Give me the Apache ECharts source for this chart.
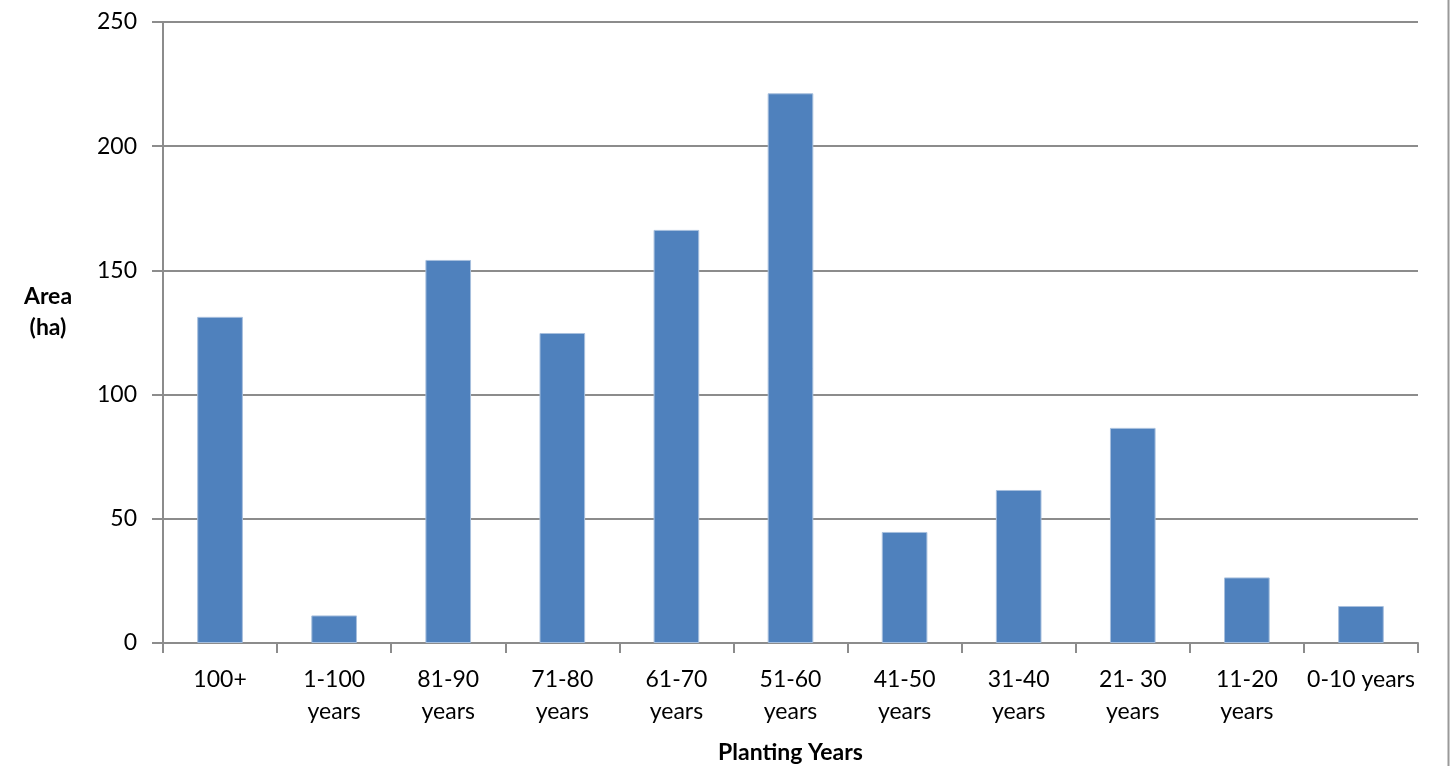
<!DOCTYPE html>
<html>
<head>
<meta charset="utf-8">
<script src="https://cdn.jsdelivr.net/npm/echarts@6/dist/echarts.min.js"></script>
<style>
  html, body { margin: 0; padding: 0; background: #fff; }
  #chart { width: 1450px; height: 766px; }
</style>
</head>
<body>
<div id="chart"></div>
<script>
// Planting-year classes and the area planted in each (ha)
const categories = ['100+', '1-100\nyears', '81-90\nyears', '71-80\nyears', '61-70\nyears', '51-60\nyears',
                    '41-50\nyears', '31-40\nyears', '21- 30\nyears', '11-20\nyears', '0-10 years'];
const areaHa = [131.3, 11.1, 154.2, 124.8, 166.3, 221.3, 44.7, 61.6, 86.6, 26.4, 14.9];
const yTicks = { min: 0, max: 250, interval: 50 };
const xTitle = 'Planting Years';
const yTitle = 'Area\n(ha)';

const FONT = 'Lato, "Open Sans", sans-serif';
const GRID_GRAY = '#8c8c8c';

const chart = echarts.init(document.getElementById('chart'), null, { renderer: 'canvas' });
chart.setOption({
  animation: false,
  backgroundColor: '#fff',
  grid: { left: 163, right: 32, top: 22, bottom: 123, containLabel: false, outerBoundsMode: 'none' },
  xAxis: {
    type: 'category',
    data: categories,
    name: xTitle,
    nameLocation: 'middle',
    nameGap: 98,
    nameTextStyle: { fontFamily: FONT, fontSize: 23, fontWeight: 'bold', color: '#000' },
    axisLine: { lineStyle: { color: GRID_GRAY, width: 2 } },
    axisTick: { show: true, length: 10, alignWithLabel: false, lineStyle: { color: GRID_GRAY, width: 2 } },
    axisLabel: { fontFamily: FONT, fontSize: 23, color: '#000', lineHeight: 32, margin: 21, interval: 0 }
  },
  yAxis: {
    type: 'value',
    min: yTicks.min, max: yTicks.max, interval: yTicks.interval,
    axisLine: { show: true, lineStyle: { color: GRID_GRAY, width: 2 } },
    axisTick: { show: true, length: 11, lineStyle: { color: GRID_GRAY, width: 2 } },
    axisLabel: { fontFamily: FONT, fontSize: 23, color: '#000', margin: 26 },
    splitLine: { show: true, lineStyle: { color: GRID_GRAY, width: 2 } }
  },
  series: [{
    type: 'bar',
    data: areaHa,
    barCategoryGap: '60%',
    itemStyle: { color: '#4f81bd', borderColor: '#a7bfdd', borderWidth: 1 }
  }],
  graphic: [{
    // horizontal y-axis title, sitting left of the tick labels
    type: 'text',
    x: 48, y: 312,
    style: {
      text: yTitle, fontFamily: FONT, fontSize: 23, fontWeight: 'bold', fill: '#000',
      lineHeight: 31, align: 'center', verticalAlign: 'middle'
    }
  }, {
    // chart frame edge on the right
    type: 'line',
    shape: { x1: 1448.5, y1: 0, x2: 1448.5, y2: 766 },
    style: { stroke: '#9a9a9a', lineWidth: 2 }
  }]
});
</script>
</body>
</html>
